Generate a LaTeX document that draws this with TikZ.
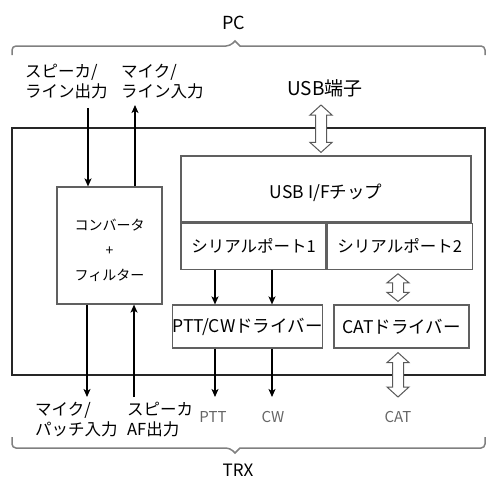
\documentclass[tikz,border=0pt]{standalone}
\usepackage{fontspec}
\setmainfont{Noto Sans CJK JP}
\usetikzlibrary{arrows.meta,positioning,calc}

\tikzset{
  box/.style={draw=gray!75!black, line width=1.2pt, inner sep=0pt},
  sig/.style={-{Stealth[length=8pt,width=7pt,inset=2pt]}, line width=1.3pt},
  hollow/.style={draw=gray!70!black, fill=white, line width=1pt, line join=miter},
  brace/.style={draw=gray, line width=1.5pt, rounded corners=4pt},
  lbl/.style={inner sep=0pt, align=left, font=\fontsize{16.5}{20}\selectfont},
  port/.style={inner sep=0pt, text=gray!80!black, font=\fontsize{15}{15}\selectfont},
}

% hollow double arrow between two named coordinates (top, bottom)
\newcommand{\dblhollow}[3]{%
  \draw[hollow] (#1) -- ++(11,#3) -- ++(-5.5,0) -- ($(#2)+(5.5,-#3)$) -- ++(5.5,0) -- (#2)
    -- ++(-11,-#3) -- ++(5.5,0) -- ($(#1)+(-5.5,#3)$) -- ++(-5.5,0) -- cycle;}

\begin{document}
\begin{tikzpicture}[x=1pt, y=-1pt]
\useasboundingbox (0,0) rectangle (487,477);

% PC side
\node[font=\fontsize{18}{18}\selectfont] (pc) at (234,23) {PC};
\draw[brace] (12,55) -- (12,46) -- (230,46) [sharp corners] -- (235,41) -- (240,46) [rounded corners=4pt] -- (485,46) -- (485,55);

\node[lbl, anchor=north west] (spkout) at (25,64) {スピーカ/\\ライン出力};
\node[lbl, anchor=north west] (micin) at (121,64) {マイク/\\ライン入力};
\node[font=\fontsize{19}{19}\selectfont] (usbport) at (325,88) {USB端子};

% TRX unit
\node[box, draw=gray!30!black, line width=2.5pt, minimum width=473pt, minimum height=247pt] (trxbox) at (248.5,251.5) {};

% converter
\node[box, minimum width=105pt, minimum height=117pt] (conv) at (109.5,245.5) {};
\node[align=center, font=\fontsize{14}{25}\selectfont] (convtxt) at ([yshift=-4.5pt]conv.center) {コンバータ\\+\\フィルター};

% USB chip and serial ports
\node[box, minimum width=290pt, minimum height=66pt] (chip) at (326,189) {};
\node[font=\fontsize{17.5}{17.5}\selectfont] (chiptxt) at ([yshift=-4pt]chip.center) {USB I/Fチップ};
\node[box, minimum width=145pt, minimum height=46pt, anchor=north west, font=\fontsize{16.5}{16.5}\selectfont] (ser1) at (chip.south west) {シリアルポート1};
\node[box, minimum width=145pt, minimum height=46pt, anchor=north west, font=\fontsize{16.5}{16.5}\selectfont] (ser2) at (ser1.north east) {シリアルポート2};

% drivers
\node[box, minimum width=133pt, minimum height=43pt, font=\fontsize{17.5}{17.5}\selectfont] (pttdrv) at (247.5,326.5) {PTT/CWドライバー};
\node[box, minimum width=135pt, minimum height=43pt, font=\fontsize{17.5}{17.5}\selectfont] (catdrv) at (401.5,326.5) {CATドライバー};

% audio lines
\coordinate (spk) at (88,108);
\coordinate (mic) at (135,105);
\coordinate (micp) at (87,397);
\coordinate (afo) at (134,397);
\draw[sig] (spk) -- (spk |- conv.north);
\draw[sig] (mic |- conv.north) -- (mic);
\draw[sig] (micp |- conv.south) -- (micp);
\draw[sig] (afo) -- (afo |- conv.south);

% PTT / CW lines
\coordinate (pttout) at (215,397);
\coordinate (cwout) at (272,397);
\draw[sig] (pttout |- ser1.south) -- (pttout |- pttdrv.north);
\draw[sig] (cwout |- ser1.south) -- (cwout |- pttdrv.north);
\draw[sig] (pttout |- pttdrv.south) -- (pttout);
\draw[sig] (cwout |- pttdrv.south) -- (cwout);

% USB and CAT
\coordinate (usb) at (321,105);
\coordinate (usbend) at ([yshift=3pt]chip.north -| usb);
\coordinate (catout) at (398,397);
\coordinate (ser2end) at ([yshift=-4pt]ser2.south -| catout);
\coordinate (cattop) at ([yshift=3pt]catdrv.north -| catout);
\coordinate (catbot) at ([yshift=-4pt]catdrv.south -| catout);
\dblhollow{usb}{usbend}{10}
\dblhollow{ser2end}{cattop}{9}
\dblhollow{catbot}{catout}{10}

% TRX side
\node[lbl, anchor=north west] (micpin) at (35,402) {マイク/\\パッチ入力};
\node[lbl, anchor=north west] (afout) at (127,402) {スピーカ\\AF出力};
\node[port] (ptt) at (213,417) {PTT};
\node[port] (cw) at (273,417) {CW};
\node[port] (cat) at (398,417) {CAT};

\draw[brace] (12,437) -- (12,448) -- (230,448) [sharp corners] -- (235,453) -- (240,448) [rounded corners=4pt] -- (485,448) -- (485,437);
\node[font=\fontsize{17}{17}\selectfont] (trx) at (238,470) {TRX};
\end{tikzpicture}
\end{document}
